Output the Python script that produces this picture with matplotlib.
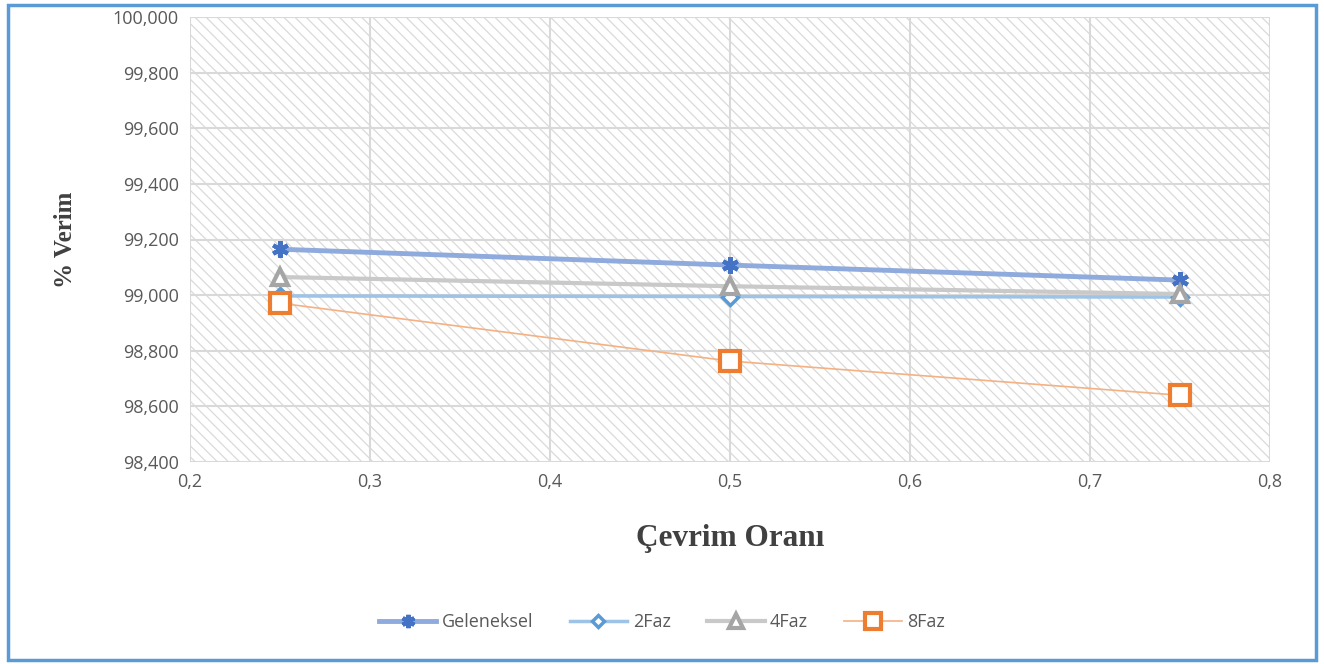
import matplotlib.pyplot as plt
from matplotlib.patches import Rectangle

# data
oran = [0.25, 0.5, 0.75]
geleneksel = [99.165, 99.108, 99.054]
faz2 = [98.997, 98.995, 98.993]
faz4 = [99.065, 99.032, 99.004]
faz8 = [98.971, 98.763, 98.640]

xticks = [0.2, 0.3, 0.4, 0.5, 0.6, 0.7, 0.8]
yticks = [98.4, 98.6, 98.8, 99.0, 99.2, 99.4, 99.6, 99.8, 100.0]

plt.rcParams['font.family'] = ['Open Sans', 'DejaVu Sans']
plt.rcParams['hatch.linewidth'] = 0.9
plt.rcParams['hatch.color'] = '#DADADA'

fig = plt.figure(figsize=(13.24, 6.64), dpi=100)
ax = fig.add_axes([190/1324, 1-462/664, 1080/1324, 445/664])

# hatched plot area
ax.add_patch(Rectangle((0, 0), 1, 1, transform=ax.transAxes, facecolor='white',
                       edgecolor='#DADADA', hatch='\\\\\\', lw=0, zorder=0))

ax.plot(oran, geleneksel, color='#8FAADC', lw=3.5, marker=(6, 2, 0), ms=12,
        mec='#4472C4', mfc='#4472C4', mew=3, label='Geleneksel', zorder=3)
ax.plot(oran, faz2, color='#9DC3E6', lw=2.5, marker='D', ms=8,
        mec='#5B9BD5', mfc='white', mew=2.5, label='2Faz', zorder=3)
ax.plot(oran, faz4, color='#C9C9C9', lw=3, marker='^', ms=12,
        mec='#A5A5A5', mfc='white', mew=3, label='4Faz', zorder=3)
ax.plot(oran, faz8, color='#F4B183', lw=1.2, marker='s', ms=14,
        mec='#ED7D31', mfc='white', mew=3, label='8Faz', zorder=3)

ax.set_xlim(0.2, 0.8)
ax.set_ylim(98.4, 100.0)
ax.set_xticks(xticks)
ax.set_yticks(yticks)
ax.set_xticklabels([('%.1f' % v).replace('.', ',') for v in xticks])
ax.set_yticklabels([('%.3f' % v).replace('.', ',') for v in yticks])

ax.grid(True, color='#D9D9D9', lw=1.5, zorder=1)
ax.set_axisbelow(True)
for sp in ax.spines.values():
    sp.set_visible(False)
ax.tick_params(length=0, labelsize=13, labelcolor='#595959', pad=8)

ax.set_ylabel('% Verim', family='Liberation Serif', fontweight='bold', fontsize=18,
              color='#404040', labelpad=26)
ax.set_xlabel('Çevrim Oranı', family='Liberation Serif', fontweight='bold', fontsize=22.5,
              color='#404040', labelpad=24)

fig.legend(loc='center', bbox_to_anchor=(0.5, 1-622/664), ncol=4, frameon=False,
           fontsize=13, labelcolor='#595959', handlelength=3.2, columnspacing=2.0,
           handletextpad=0.3, markerscale=0.8)

fig.patches.append(Rectangle((8/1324, 4/664), 1308/1324, 655/664, transform=fig.transFigure,
                             fill=False, edgecolor='#5B9BD5', lw=2.5))

fig.savefig('out.png', dpi=100)
